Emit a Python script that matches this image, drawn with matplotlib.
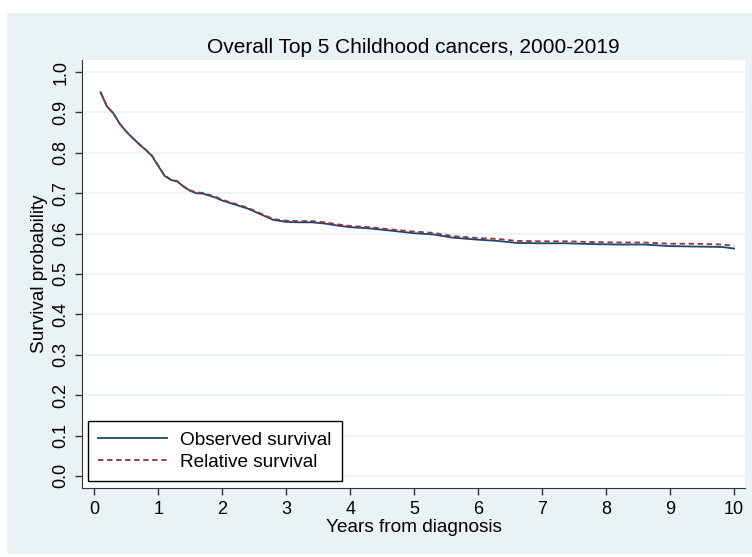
import matplotlib
matplotlib.use("Agg")
import matplotlib.pyplot as plt
from matplotlib.patches import Rectangle

plt.rcParams['font.family'] = ['Liberation Sans', 'DejaVu Sans']

# years since diagnosis and survival estimates
years = [0.1, 0.2, 0.3, 0.4, 0.5, 0.6, 0.7, 0.8, 0.9, 1.0, 1.1, 1.2, 1.3, 1.4,
         1.5, 1.6, 1.7, 1.8, 1.9, 2.0, 2.2, 2.4, 2.6, 2.8, 3.0, 3.2, 3.4, 3.6,
         3.8, 4.0, 4.3, 4.6, 5.0, 5.3, 5.6, 6.0, 6.3, 6.6, 7.0, 7.4, 7.8, 8.2,
         8.6, 9.0, 9.4, 9.8, 10.0]
observed = [0.950, 0.915, 0.898, 0.872, 0.853, 0.837, 0.822, 0.808, 0.793,
            0.768, 0.743, 0.733, 0.729, 0.716, 0.706, 0.700, 0.699, 0.694,
            0.689, 0.682, 0.672, 0.662, 0.648, 0.634, 0.629, 0.628, 0.628,
            0.625, 0.620, 0.616, 0.613, 0.608, 0.601, 0.598, 0.590, 0.585,
            0.582, 0.577, 0.576, 0.576, 0.574, 0.573, 0.573, 0.569, 0.568,
            0.567, 0.563]
relative = [0.950, 0.915, 0.898, 0.872, 0.853, 0.837, 0.822, 0.809, 0.794,
            0.769, 0.744, 0.734, 0.730, 0.717, 0.707, 0.702, 0.701, 0.696,
            0.691, 0.684, 0.674, 0.664, 0.650, 0.636, 0.632, 0.631, 0.631,
            0.628, 0.623, 0.619, 0.616, 0.611, 0.605, 0.602, 0.594, 0.589,
            0.587, 0.582, 0.581, 0.581, 0.579, 0.578, 0.578, 0.575, 0.575,
            0.573, 0.570]

W, H = 752, 557
fig = plt.figure(figsize=(W / 100, H / 100), dpi=100, facecolor='white')
bg = '#EAF2F3'
fig.add_artist(Rectangle((7 / W, 3 / H), 1 - 7 / W, 1 - 16 / H,
                         transform=fig.transFigure, facecolor=bg,
                         edgecolor='none', zorder=-10))

ax = fig.add_axes([82 / W, 1 - 488 / H, 663 / W, 428 / H])
ax.set_facecolor('white')

ax.plot(years, observed, color='#1a476f', lw=1.3, label='Observed survival')
ax.plot(years, relative, color='#90353b', lw=1.3, ls=(0, (3, 2)),
        label='Relative survival')

ax.set_xlim(-0.19, 10.17)
ax.set_ylim(-0.03, 1.03)
ax.set_xticks(range(0, 11))
ax.set_yticks([i / 10 for i in range(11)])
ax.set_yticklabels([f'{i / 10:.1f}' for i in range(11)], rotation=90,
                   va='center')
ax.tick_params(labelsize=13, length=5, width=1, color='#333333', pad=4)
ax.grid(axis='y', color=bg, lw=1.2)
ax.set_axisbelow(True)
for s in ['top', 'right']:
    ax.spines[s].set_visible(False)
for s in ['left', 'bottom']:
    ax.spines[s].set_color('#333333')

ax.set_title('Overall Top 5 Childhood cancers, 2000-2019', fontsize=15,
             pad=5)
ax.set_xlabel('Years from diagnosis', fontsize=13.7, labelpad=1)
ax.set_ylabel('Survival probability', fontsize=13.7, labelpad=3)

leg = ax.legend(loc='lower left', bbox_to_anchor=(0.009, 0.016),
                borderaxespad=0, fancybox=False, edgecolor='black',
                framealpha=1, fontsize=13.7, handlelength=3.6,
                handletextpad=0.7, borderpad=0.55, labelspacing=0.25)
leg.get_frame().set_linewidth(1.0)

fig.savefig('out.png', dpi=100, facecolor=fig.get_facecolor())
